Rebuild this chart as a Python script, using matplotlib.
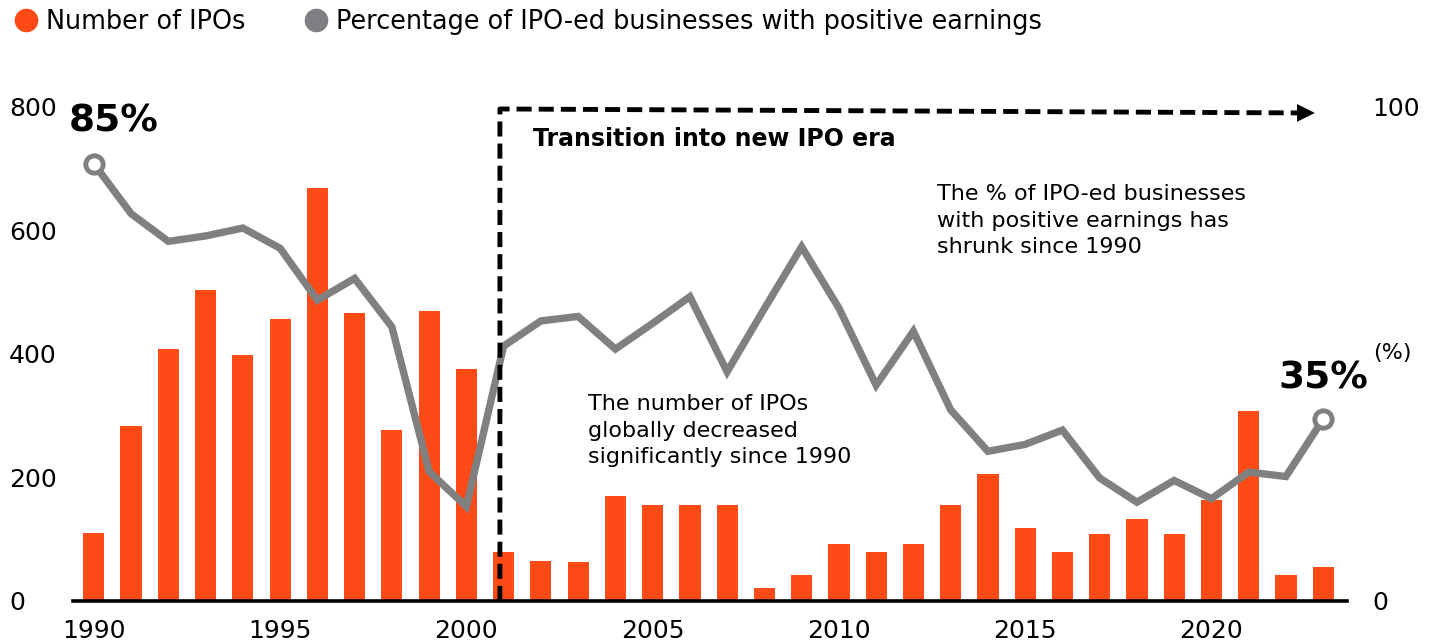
import numpy as np
import matplotlib
matplotlib.use("Agg")
import matplotlib.pyplot as plt

plt.rcParams['font.family'] = ['DejaVu Sans']

years = list(range(1990, 2024))
ipo_count = [110, 283, 408, 503, 399, 456, 669, 467, 277, 469, 375, 80,
             64, 63, 170, 155, 155, 155, 21, 42, 93, 80, 93, 155,
             205, 119, 80, 109, 133, 109, 163, 307, 42, 55]
pct_positive = [88.5, 78.4, 72.8, 73.9, 75.5, 71.4, 60.9, 65.3, 55.5, 26.2, 19.1, 51.6,
                56.7, 57.6, 51.0, 56.2, 61.6, 46.4, 59.2, 71.7, 59.3, 43.7, 54.6, 38.7,
                30.3, 31.7, 34.6, 24.9, 20.0, 24.4, 20.7, 26.1, 25.2, 36.8]
year_ticks = [1990, 1995, 2000, 2005, 2010, 2015, 2020]

orange = '#fd4a16'
grey = '#808080'

fig = plt.figure(figsize=(14.35, 6.43), dpi=100)
ax = fig.add_axes([73/1435, 1-601/643, (1347-73)/1435, (601-107)/643])
ax2 = ax.twinx()

ax.bar(years, ipo_count, width=0.57, color=orange, zorder=2)
ax.set_xlim(1989.44, 2023.64)
ax.set_ylim(0, 800)
ax.set_yticks([0, 200, 400, 600, 800])
ax.set_xticks(year_ticks)
ax.tick_params(axis='both', length=0, labelsize=18)
ax.tick_params(axis='y', pad=46)
ax.tick_params(axis='x', pad=13)
for lab in ax.get_yticklabels():
    lab.set_horizontalalignment('left')
for s in ['top', 'right', 'left']:
    ax.spines[s].set_visible(False)
ax.spines['bottom'].set_linewidth(2.6)
ax.spines['bottom'].set_zorder(5)

ax2.plot(years, pct_positive, color=grey, lw=5.3, solid_joinstyle='miter', zorder=2)
ax2.plot([years[0], years[-1]], [pct_positive[0], pct_positive[-1]], 'o', ms=12.5,
         mfc='white', mec=grey, mew=3.5, zorder=3)
ax2.set_ylim(0, 100)
ax2.set_yticks([0, 100])
ax2.tick_params(axis='y', length=0, labelsize=18, pad=18.5)
for s in ['top', 'right', 'left', 'bottom']:
    ax2.spines[s].set_visible(False)

# transition marker
ax2.plot([2000.9, 2000.9, 2022.4], [0, 99.6, 98.8], color='black', lw=3.5,
         linestyle=(0, (3.1, 1.45)), zorder=4, clip_on=False)
ax2.annotate('', xy=(2022.85, 98.8), xytext=(2022.2, 98.8),
             arrowprops=dict(arrowstyle='-|>', color='black', lw=0, mutation_scale=32),
             zorder=4, annotation_clip=False)

ax.text(2001.79, 748, 'Transition into new IPO era', fontsize=17, fontweight='bold',
        ha='left', va='center')
ax.text(1989.33, 777, '85%', fontsize=27, fontweight='bold', ha='left', va='center')
ax.text(2021.79, 361, '35%', fontsize=27, fontweight='bold', ha='left', va='center')
ax.text(2024.34, 402, '(%)', fontsize=16, ha='left', va='center', clip_on=False)
ax.text(2003.26, 276, 'The number of IPOs\nglobally decreased\nsignificantly since 1990',
        fontsize=16, ha='left', va='center', linespacing=1.42)
ax.text(2012.63, 616, 'The % of IPO-ed businesses\nwith positive earnings has\nshrunk since 1990',
        fontsize=16, ha='left', va='center', linespacing=1.42)

handles = [plt.Line2D([], [], marker='o', ls='', ms=16, color=orange),
           plt.Line2D([], [], marker='o', ls='', ms=16, color='#7f7e82')]
fig.legend(handles, ['Number of IPOs', 'Percentage of IPO-ed businesses with positive earnings'],
           loc='center left', bbox_to_anchor=(13/1435, 1-22/643), ncol=2, frameon=False,
           fontsize=18.4, handlelength=1.0, handletextpad=0.3, columnspacing=2.25,
           borderpad=0, borderaxespad=0)

fig.savefig('out.png', dpi=100)
